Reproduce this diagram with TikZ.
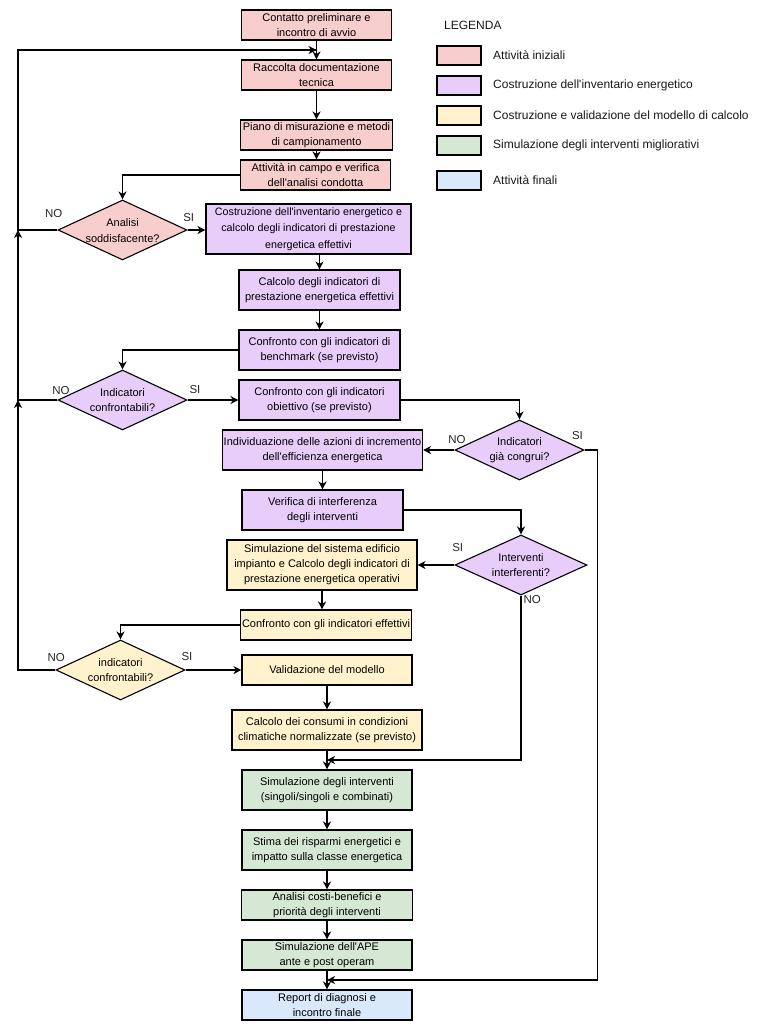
\documentclass[tikz,border=0pt]{standalone}
\usepackage{fontspec}
\setmainfont{Liberation Sans}[Ligatures=TeXOff]
\usetikzlibrary{shapes.geometric,arrows.meta,calc}
\definecolor{cpink}{HTML}{F8CECC}
\definecolor{cpurple}{HTML}{E8CCF9}
\definecolor{cyellow}{HTML}{FFF2CC}
\definecolor{cgreen}{HTML}{D5E8D4}
\definecolor{cblue}{HTML}{DAE8FC}
\begin{document}
\begin{tikzpicture}[x=1pt,y=-1pt,
  box/.style={draw=black, line width=1.1pt, inner sep=0pt, align=center, font=\fontsize{11}{15}\selectfont},
  dec/.style={draw=black, line width=1.1pt, shape=diamond, inner sep=0pt, minimum width=129pt, minimum height=60pt},
  dtxt/.style={align=center, inner sep=0pt, font=\fontsize{11}{15.5}\selectfont},
  arr/.style={line width=1.2pt, draw=black, -{Stealth[length=8pt,width=8pt,inset=2.5pt]}},
  lab/.style={font=\fontsize{11.5}{14}\selectfont, inner sep=0pt, text=black!85},
  leg/.style={draw=black, line width=1.1pt, minimum width=44pt, minimum height=19pt, inner sep=0pt},
  legt/.style={anchor=west, inner sep=0pt, font=\fontsize{12}{14}\selectfont, text=black!90}
]
\path[use as bounding box, fill=white] (0,0) rectangle (762,1031);

% boxes
\node[box, fill=cpink, minimum width=150pt, minimum height=30pt] (n1) at (316.5,25) {Contatto preliminare e\\incontro di avvio};
\node[box, fill=cpink, minimum width=150pt, minimum height=30pt] (n2) at (316.5,75) {Raccolta documentazione\\tecnica};
\node[box, fill=cpink, minimum width=152pt, minimum height=30pt] (n3) at (316.5,135) {Piano di misurazione e metodi\\di campionamento};
\node[box, fill=cpink, minimum width=150pt, minimum height=30pt] (n4) at (315.5,175) {Attività in campo e verifica\\dell'analisi condotta};
\node[box, fill=cpurple, minimum width=205pt, minimum height=50pt, font=\fontsize{10.7}{16.5}\selectfont] (n5) at (308.5,229) {Costruzione dell'inventario energetico e\\calcolo degli indicatori di prestazione\\energetica effettivi};
\node[box, fill=cpurple, minimum width=161pt, minimum height=40pt] (n6) at (319.5,290) {Calcolo degli indicatori di\\prestazione energetica effettivi};
\node[box, fill=cpurple, minimum width=161pt, minimum height=40pt] (n7) at (319.5,350) {Confronto con gli indicatori di\\benchmark (se previsto)};
\node[box, fill=cpurple, minimum width=161pt, minimum height=40pt] (n8) at (319.5,400) {Confronto con gli indicatori\\obiettivo (se previsto)};
\node[box, fill=cpurple, minimum width=200pt, minimum height=40pt] (n9) at (322.5,450) {Individuazione delle azioni di incremento\\dell'efficienza energetica};
\node[box, fill=cpurple, minimum width=161pt, minimum height=40pt] (n10) at (322.5,510) {Verifica di interferenza\\degli interventi};
\node[box, fill=cyellow, minimum width=190pt, minimum height=50pt] (n11) at (322,565) {Simulazione del sistema edificio\\impianto e Calcolo degli indicatori di\\prestazione energetica operativi};
\node[box, fill=cyellow, minimum width=171pt, minimum height=30pt] (n12) at (326,625) {Confronto con gli indicatori effettivi};
\node[box, fill=cyellow, minimum width=170pt, minimum height=30pt] (n13) at (327,670) {Validazione del modello};
\node[box, fill=cyellow, minimum width=190pt, minimum height=40pt] (n14) at (327,730) {Calcolo dei consumi in condizioni\\climatiche normalizzate (se previsto)};
\node[box, fill=cgreen, minimum width=170pt, minimum height=40pt] (n15) at (327,790) {Simulazione degli interventi\\(singoli/singoli e combinati)};
\node[box, fill=cgreen, minimum width=170pt, minimum height=40pt] (n16) at (327,850) {Stima dei risparmi energetici e\\impatto sulla classe energetica};
\node[box, fill=cgreen, minimum width=171pt, minimum height=30pt] (n17) at (327,905) {Analisi costi-benefici e\\priorità degli interventi};
\node[box, fill=cgreen, minimum width=170pt, minimum height=30pt] (n18) at (327,955) {Simulazione dell'APE\\ante e post operam};
\node[box, fill=cblue, minimum width=170pt, minimum height=30pt] (n19) at (327,1005) {Report di diagnosi e\\incontro finale};

% decisions
\node[dec, fill=cpink] (d1) at (122.5,230) {};
\node[dtxt] (d1t) at (122.5,230.5) {Analisi\\soddisfacente?};
\node[dec, fill=cpurple] (d2) at (122.5,400) {};
\node[dtxt] (d2t) at (122.5,400) {Indicatori\\confrontabili?};
\node[dec, fill=cpurple] (d3) at (519.5,450) {};
\node[dtxt] (d3t) at (519.5,450) {Indicatori\\già congrui?};
\node[dec, fill=cpurple, minimum width=132pt] (d4) at (521,565) {};
\node[dtxt] (d4t) at (521,565) {Interventi\\interferenti?};
\node[dec, fill=cyellow] (d5) at (120.5,670) {};
\node[dtxt] (d5t) at (120.5,670) {indicatori\\confrontabili?};

% junction coordinates
\coordinate (j1) at (316.5,50);
\coordinate (c1) at (18,50);
\coordinate (j2) at (18,230);
\coordinate (j3) at (18,400);
\coordinate (j4) at (327,760);
\coordinate (j5) at (327,980);

% arrows main flow
\draw[arr] (n1.south) -- (n2.north);
\draw[arr] (n2.south) -- (n3.north);
\draw[arr] (n3.south) -- (n3.south |- n4.north);
\draw[arr] (n4.west) -| (d1.north);
\draw[arr] (d1.east) -- (d1.east -| n5.west);
\draw[line width=1.2pt] (d1.west) -| (c1) -- (j1);
\draw[arr] ($(j1)+(-10,0)$) -- (j1);
\draw[arr] (n5.south -| n6.north) -- (n6.north);
\draw[arr] (n6.south) -- (n7.north);
\draw[arr] (n7.west) -| (d2.north);
\draw[arr] (d2.east) -- (d2.east -| n8.west);
\draw[arr] (d2.west) -| (j2);
\draw[arr] (n8.east) -| (d3.north);
\draw[arr] (d3.west) -- (d3.west -| n9.east);
\draw[arr] (d3.east) -- ++(13,0) |- (j5);
\draw[arr] (n9.south -| n10.north) -- (n10.north);
\draw[arr] (n10.east) -| (d4.north);
\draw[arr] (d4.west) -- (d4.west -| n11.east);
\draw[arr] (d4.south) |- (j4);
\draw[arr] (n11.south) -- (n11.south |- n12.north);
\draw[arr] (n12.west) -| (d5.north);
\draw[arr] (d5.east) -- (d5.east -| n13.west);
\draw[arr] (d5.west) -| (j3);
\draw[arr] (n13.south) -- (n14.north);
\draw[arr] (n14.south) -- (n15.north);
\draw[arr] (n15.south) -- (n16.north);
\draw[arr] (n16.south) -- (n17.north);
\draw[arr] (n17.south) -- (n18.north);
\draw[arr] (n18.south) -- (n19.north);

% labels
\node[lab] (l1) at (53.7,214) {NO};
\node[lab] (l2) at (188.7,218) {SI};
\node[lab] (l3) at (61,391) {NO};
\node[lab] (l4) at (195,390) {SI};
\node[lab] (l5) at (457,440) {NO};
\node[lab] (l6) at (577.5,436) {SI};
\node[lab] (l7) at (457.7,548) {SI};
\node[lab] (l8) at (532.3,600) {NO};
\node[lab] (l9) at (56.3,657.5) {NO};
\node[lab] (l10) at (187,657) {SI};

% legend
\node[legt] (lg) at (444,25) {LEGENDA};
\node[leg, fill=cpink] (g1) at (459,55.5) {};
\node[legt] (g1t) at (493,55.5) {Attività iniziali};
\node[leg, fill=cpurple] (g2) at (459,85.5) {};
\node[legt] (g2t) at (493,85.5) {Costruzione dell'inventario energetico};
\node[leg, fill=cyellow] (g3) at (459,115.5) {};
\node[legt] (g3t) at (493,115.5) {Costruzione e validazione del modello di calcolo};
\node[leg, fill=cgreen] (g4) at (459,145.5) {};
\node[legt] (g4t) at (493,145.5) {Simulazione degli interventi migliorativi};
\node[leg, fill=cblue] (g5) at (459,180.5) {};
\node[legt] (g5t) at (493,180.5) {Attività finali};
\end{tikzpicture}
\end{document}
